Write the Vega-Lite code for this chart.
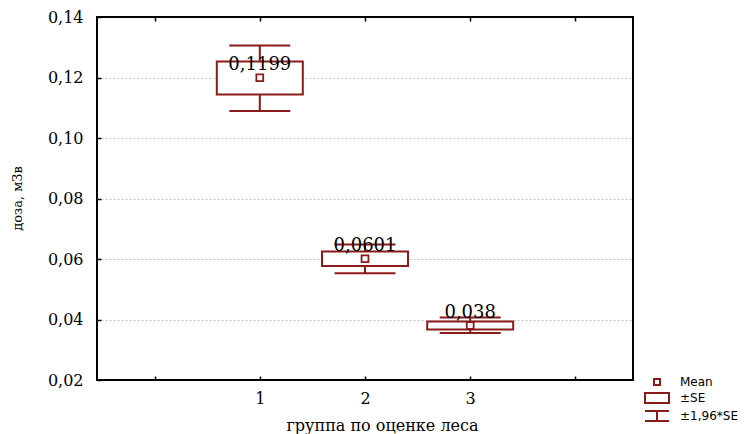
{
  "$schema": "https://vega.github.io/schema/vega-lite/v6.json",
  "width": 536,
  "height": 363,
  "autosize": "none",
  "padding": {"left": 97, "top": 17, "right": 117, "bottom": 54},
  "background": "white",
  "config": {
    "locale": {"number": {"decimal": ",", "thousands": " ", "grouping": [3], "currency": ["", ""]}},
    "view": {"stroke": "#000", "strokeWidth": 2},
    "axis": {"domain": false, "labelFont": "DejaVu Serif", "titleFont": "DejaVu Serif", "labelColor": "#000", "titleColor": "#000", "tickColor": "#000", "tickWidth": 1.5, "titleFontWeight": "normal"}
  },
  "data": {
    "values": [
      {"g": 1, "mean": 0.1199, "se_lo": 0.1144, "se_hi": 0.1253, "ci_lo": 0.1089, "ci_hi": 0.1306},
      {"g": 2, "mean": 0.0601, "se_lo": 0.0577, "se_hi": 0.0625, "ci_lo": 0.0553, "ci_hi": 0.0648},
      {"g": 3, "mean": 0.038, "se_lo": 0.0367, "se_hi": 0.0393, "ci_lo": 0.0355, "ci_hi": 0.0407}
    ]
  },
  "resolve": {"axis": {"x": "independent", "y": "independent"}},
  "layer": [
    {
      "mark": {"type": "rule", "color": "#8b1a1a", "strokeWidth": 2},
      "encoding": {
        "x": {"field": "g", "type": "quantitative", "scale": {"domain": [-0.5, 4.5], "nice": false, "zero": false},
          "axis": {"orient": "bottom", "values": [0, 1, 2, 3, 4], "labelExpr": "datum.value >= 1 && datum.value <= 3 ? datum.label : ''", "tickSize": -4, "labelPadding": 14, "labelFontSize": 16, "grid": false,
            "title": "группа по оценке леса", "titleFontSize": 16, "titleX": 285, "titleY": 45, "titleBaseline": "middle"}},
        "y": {"field": "ci_lo", "type": "quantitative", "scale": {"domain": [0.02, 0.14], "nice": false, "zero": false},
          "axis": {"orient": "left", "values": [0.02, 0.04, 0.06, 0.08, 0.1, 0.12, 0.14], "format": ".2f", "tickSize": -4, "labelPadding": 18, "labelFontSize": 16,
            "grid": true, "gridDash": [2, 2], "gridColor": {"condition": {"test": "datum.value < 0.03 || datum.value > 0.13", "value": "transparent"}, "value": "#c4c4c4"}, "gridWidth": 1,
            "title": "доза, мЗв", "titleFontSize": 13, "titleX": -80, "titleY": 181, "titleBaseline": "middle"}},
        "y2": {"field": "ci_hi"}
      }
    },
    {
      "mark": {"type": "tick", "orient": "horizontal", "size": 61, "thickness": 2, "color": "#8b1a1a", "opacity": 1},
      "encoding": {
        "x": {"field": "g", "type": "quantitative", "axis": {"orient": "top", "values": [0, 1, 2, 3, 4], "labels": false, "tickSize": -4, "title": null, "grid": false}},
        "y": {"field": "ci_hi", "type": "quantitative", "axis": null}
      }
    },
    {
      "mark": {"type": "tick", "orient": "horizontal", "size": 61, "thickness": 2, "color": "#8b1a1a", "opacity": 1},
      "encoding": {
        "x": {"field": "g", "type": "quantitative", "axis": null},
        "y": {"field": "ci_lo", "type": "quantitative", "axis": null}
      }
    },
    {
      "mark": {"type": "bar", "width": 86, "fill": "white", "stroke": "#8b1a1a", "strokeWidth": 2},
      "encoding": {
        "x": {"field": "g", "type": "quantitative", "axis": null},
        "y": {"field": "se_lo", "type": "quantitative", "axis": null},
        "y2": {"field": "se_hi"}
      }
    },
    {
      "mark": {"type": "point", "filled": false, "stroke": "#8b1a1a", "strokeWidth": 1.8, "size": 130, "opacity": 1},
      "encoding": {
        "x": {"field": "g", "type": "quantitative", "axis": null},
        "y": {"field": "mean", "type": "quantitative", "axis": null},
        "shape": {"datum": "Mean", "type": "nominal",
          "scale": {"domain": ["Mean", "±SE", "±1,96*SE"], "range": ["M-0.6,-0.6H0.6V0.6H-0.6Z", "M-2.4,-1.0H2.4V1.0H-2.4Z", "M-2.4,-1.0H2.4M0,-1.0V1.0M-2.4,1.0H2.4"]},
          "legend": {"orient": "none", "legendX": 554, "legendY": 359, "title": null, "labelFont": "DejaVu Sans", "labelFontSize": 12, "labelColor": "#000", "symbolSize": 100, "symbolStrokeColor": "#8b1a1a", "symbolFillColor": "transparent", "symbolStrokeWidth": 2, "symbolOpacity": 1, "labelOffset": 17, "rowPadding": 0, "padding": 0}}
      }
    },
    {
      "mark": {"type": "text", "font": "DejaVu Serif", "fontSize": 18, "dy": -8, "baseline": "alphabetic", "align": "center", "color": "#000"},
      "encoding": {
        "x": {"field": "g", "type": "quantitative", "axis": null},
        "y": {"field": "mean", "type": "quantitative", "axis": null},
        "text": {"field": "mean", "type": "quantitative", "format": ".4~f"}
      }
    }
  ]
}
